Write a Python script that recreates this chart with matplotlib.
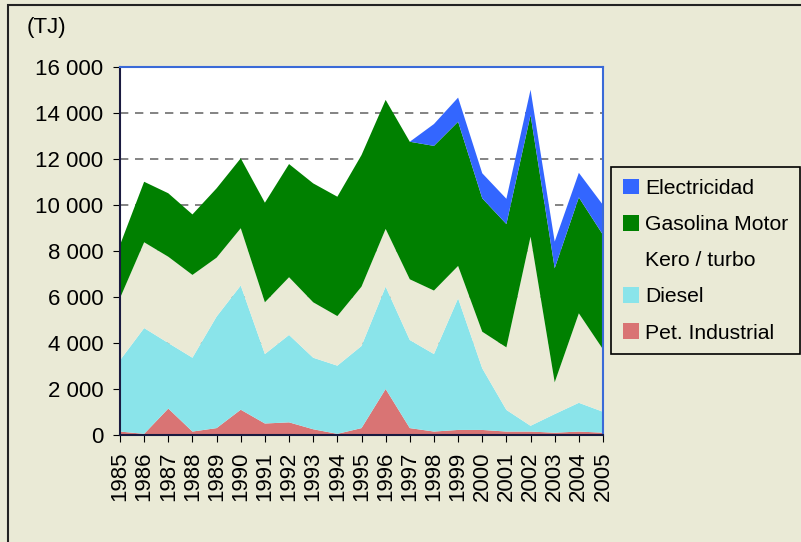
import matplotlib
matplotlib.use('Agg')
import matplotlib.pyplot as plt
from matplotlib.ticker import FuncFormatter, MultipleLocator
from matplotlib.patches import Rectangle

plt.rcParams['font.family'] = ['Liberation Sans', 'DejaVu Sans']

# Datos (TJ) por año
years = list(range(1985, 2006))
pet_industrial = [150, 50, 1150, 150, 300, 1100, 500, 550, 250, 50, 300,
                  2000, 300, 150, 220, 220, 150, 150, 100, 150, 100]
diesel = [3100, 4600, 2850, 3210, 4850, 5400, 3020, 3800, 3110, 2965, 3570,
          4450, 3830, 3370, 5720, 2680, 940, 250, 810, 1250, 910]
kero_turbo = [2700, 3730, 3750, 3600, 2560, 2490, 2250, 2510, 2410, 2155, 2580,
              2510, 2640, 2760, 1410, 1590, 2720, 8220, 1380, 3890, 2715]
gasolina = [2310, 2630, 2760, 2630, 3015, 3040, 4330, 4920, 5170, 5190, 5720,
            5610, 5980, 6290, 6270, 5800, 5360, 5290, 4960, 5040, 4975]
electricidad = [0, 0, 0, 0, 0, 0, 0, 0, 0, 0, 0,
                0, 0, 950, 1050, 1090, 1100, 1100, 1160, 1070, 1300]

labels = ['Pet. Industrial', 'Diesel', 'Kero / turbo', 'Gasolina Motor', 'Electricidad']
colors = ['#D97474', '#8AE4EA', '#EAEAD6', '#008000', '#3366FF']
bg = '#EAEAD6'

fig = plt.figure(figsize=(8.01, 5.42), dpi=100)
fig.patch.set_facecolor(bg)

# marco exterior
fig.patches.append(Rectangle((8 / 801, -0.1), 1.2, 1 - 5 / 542 + 0.1,
                             transform=fig.transFigure, fill=False,
                             edgecolor='#222222', linewidth=1.5))

ax = fig.add_axes([120 / 801, 1 - 435 / 542, 483 / 801, 368 / 542])
ax.set_facecolor('white')

ax.stackplot(years, pet_industrial, diesel, kero_turbo, gasolina, electricidad,
             colors=colors, labels=labels, linewidth=0)

ax.set_xlim(1985, 2005)
ax.set_ylim(0, 16000)
ax.yaxis.set_major_locator(MultipleLocator(2000))
ax.yaxis.set_major_formatter(FuncFormatter(lambda v, p: f'{int(v):,}'.replace(',', ' ')))
ax.set_xticks(years)
ax.set_xticklabels([str(y) for y in years], rotation=90)
ax.tick_params(axis='both', labelsize=16, direction='out', length=5, color='black')
ax.tick_params(axis='y', pad=7)
ax.tick_params(axis='x', pad=7)

ax.grid(axis='y', color='#6e6e6e', linestyle=(0, (5, 4)), linewidth=1.2)
ax.set_axisbelow(True)

ax.spines['left'].set_color('#1a1a40')
ax.spines['bottom'].set_color('#1a1a40')
ax.spines['top'].set_color('#3a6ad8')
ax.spines['right'].set_color('#3a6ad8')
for s in ax.spines.values():
    s.set_linewidth(1.5)

fig.text(27 / 801, 1 - 28 / 542, '(TJ)', fontsize=16, va='center', ha='left')

handles, labs = ax.get_legend_handles_labels()
leg = fig.legend(handles[::-1], labs[::-1], loc='upper left',
                 bbox_to_anchor=(611 / 801, 1 - 167 / 542),
                 fontsize=15.2, frameon=True, fancybox=False,
                 edgecolor='black', facecolor=bg, framealpha=1,
                 handlelength=0.78, handleheight=0.78, handletextpad=0.3,
                 labelspacing=0.8, borderpad=0.55, borderaxespad=0)
leg.get_frame().set_linewidth(1.2)
# the kero swatch is a touch lighter than the legend background
for h in leg.legend_handles:
    if h.get_label() == 'Kero / turbo':
        h.set_facecolor('#EEEEDD')

plt.savefig('out.png', dpi=100, facecolor=fig.get_facecolor())
